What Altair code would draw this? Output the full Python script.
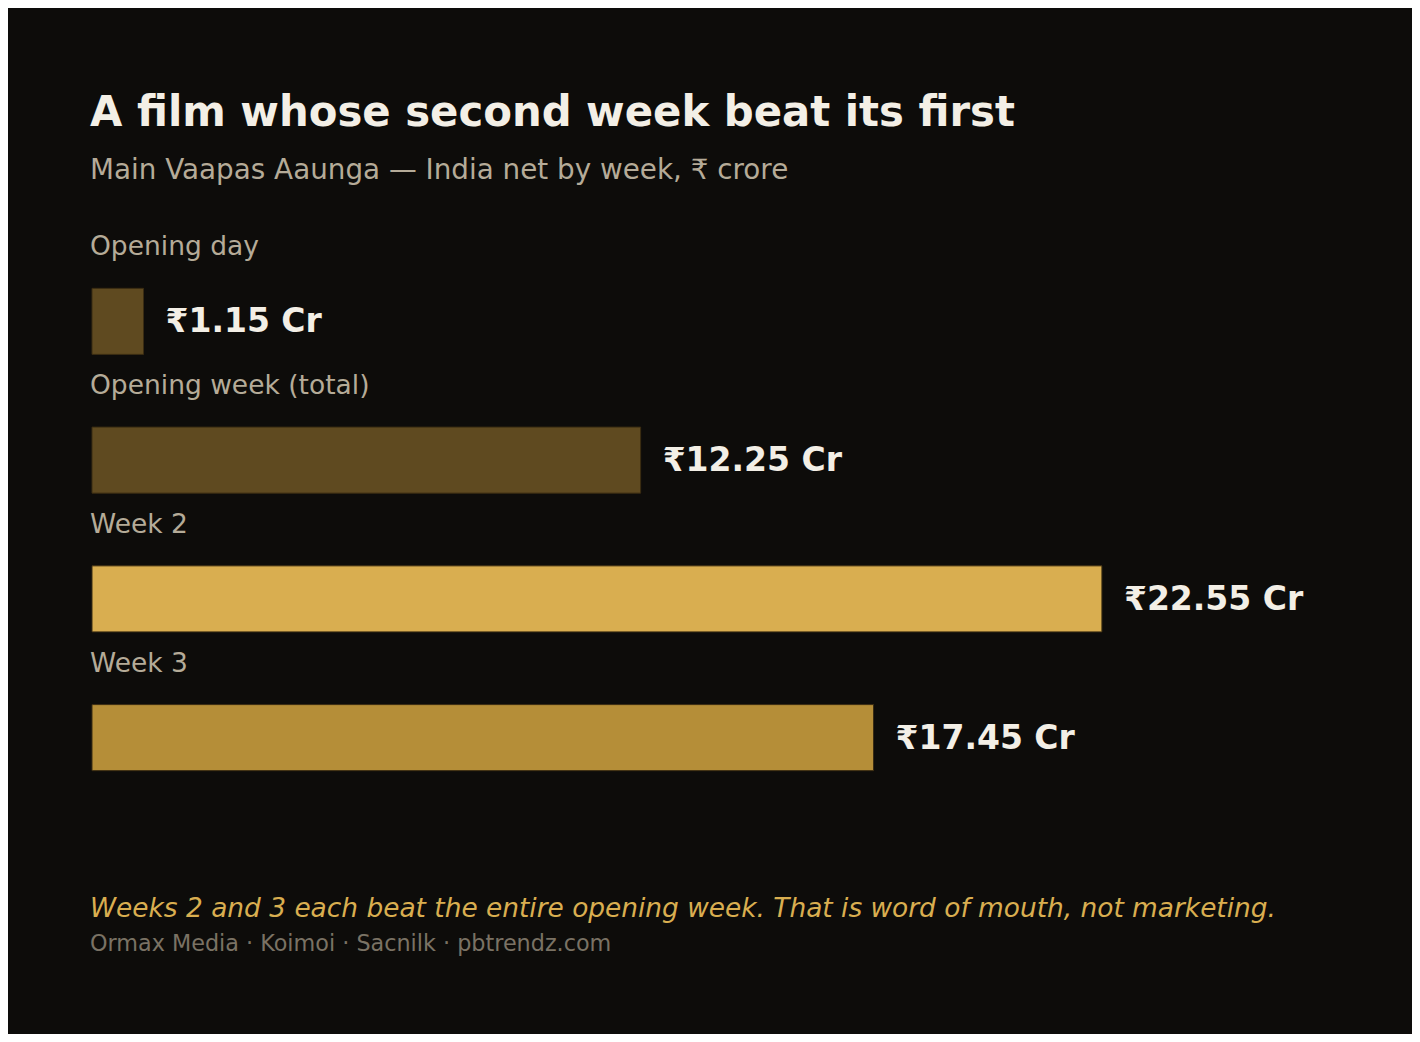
import pandas as pd
import altair as alt

# Box office data (India net, crore)
periods = ["Opening day", "Opening week (total)", "Week 2", "Week 3"]
net_crore = [1.15, 12.25, 22.55, 17.45]
bar_colors = ["#5f4a20", "#5f4a20", "#d9ae50", "#b58e38"]

title_text = "A film whose second week beat its first"
subtitle_text = "Main Vaapas Aaunga \u2014 India net by week, \u20b9 crore"
note_text = "Weeks 2 and 3 each beat the entire opening week. That is word of mouth, not marketing."
source_text = "Ormax Media \u00b7 Koimoi \u00b7 Sacnilk \u00b7 pbtrendz.com"

BG = "#0d0c0a"
FONT = "DejaVu Sans"

df = pd.DataFrame({"period": periods, "net": net_crore})
df["label"] = [f"\u20b9{v:.2f} Cr" for v in net_crore]

W, H = 1254, 555

x = alt.X("net:Q", scale=alt.Scale(domain=[0, 28], nice=False), axis=None)
y = alt.Y("period:N", sort=periods, axis=None,
          scale=alt.Scale(paddingInner=0.524, paddingOuter=0.262))

base = alt.Chart(df)

bars = base.mark_bar(stroke="#3a2c12", strokeWidth=1).encode(
    x=x,
    y=y,
    color=alt.Color("period:N", scale=alt.Scale(domain=periods, range=bar_colors), legend=None),
)

values = base.mark_text(
    align="left", baseline="alphabetic", dx=22, dy=11,
    font=FONT, fontSize=33, fontWeight="bold", color="#f3efe6"
).encode(x=x, y=y, text="label:N")

row_labels = base.mark_text(
    align="left", baseline="alphabetic", dy=-66,
    font=FONT, fontSize=26.5, color="#b5ab98"
).encode(x=alt.value(-2), y=y, text="period:N")


def text_line(txt, ypos, size, color, weight="normal", style="normal"):
    return alt.Chart(pd.DataFrame({"t": [txt]})).mark_text(
        align="left", baseline="alphabetic", font=FONT, fontSize=size,
        fontWeight=weight, fontStyle=style, color=color
    ).encode(x=alt.value(-2), y=alt.value(ypos), text="t:N")


title = text_line(title_text, -126, 41.8, "#f3efe6", weight="bold")
subtitle = text_line(subtitle_text, -73, 27.8, "#b5ab98")
note = text_line(note_text, 665, 26.4, "#d9ae50", style="italic")
source = text_line(source_text, 699, 22.3, "#7a7264")

chart = alt.layer(bars, values, row_labels, title, subtitle, note, source).properties(
    width=W,
    height=H,
    background=BG,
    padding={"left": 84, "top": 244, "right": 66, "bottom": 227},
    autosize=alt.AutoSizeParams(type="none"),
).configure_view(stroke=None)

chart.save("out.html", embed_options={"renderer": "svg", "actions": False})
